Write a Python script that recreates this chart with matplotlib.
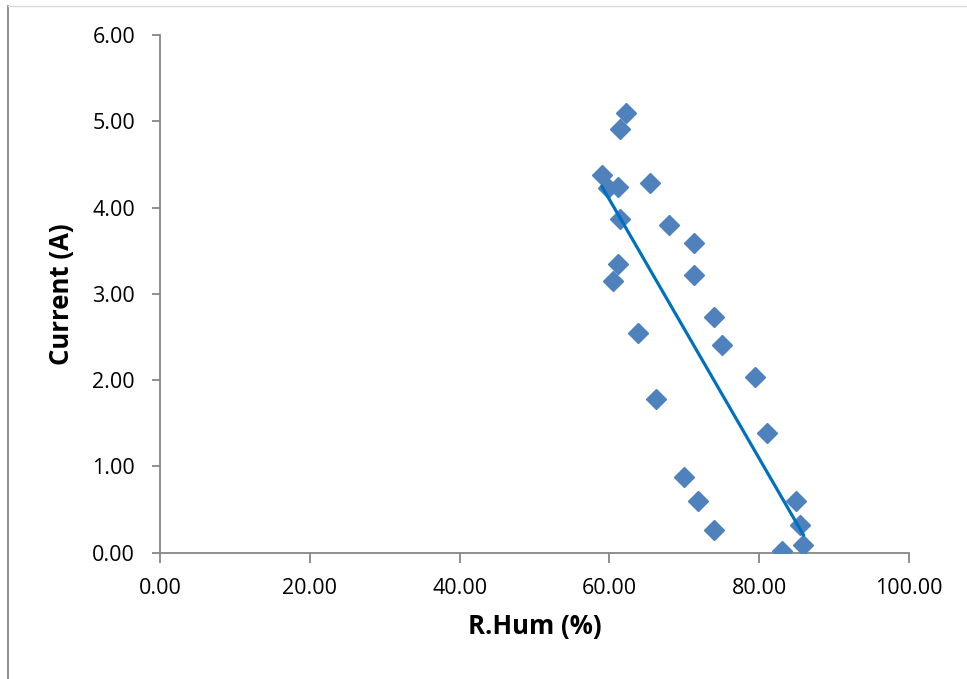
import matplotlib.pyplot as plt
import numpy as np
from matplotlib.lines import Line2D

# relative humidity (%) and current (A)
humidity = [62.2, 61.4, 59.0, 59.8, 61.2, 65.4, 61.4, 68.0, 71.3, 61.1,
            60.5, 71.3, 73.9, 63.8, 75.0, 79.5, 66.2, 81.1, 69.9, 71.8,
            84.9, 85.4, 73.9, 83.0, 85.9]
current = [5.10, 4.91, 4.38, 4.23, 4.24, 4.29, 3.87, 3.80, 3.59, 3.34,
           3.15, 3.22, 2.73, 2.55, 2.41, 2.04, 1.78, 1.39, 0.88, 0.60,
           0.60, 0.32, 0.26, 0.02, 0.09]

x_ticks = [0, 20, 40, 60, 80, 100]
y_ticks = [0, 1, 2, 3, 4, 5, 6]

plt.rcParams['font.family'] = ['Open Sans', 'DejaVu Sans']

fig = plt.figure(figsize=(9.67, 6.79), dpi=100)
ax = fig.add_axes([0.1655, 0.186, 0.7745, 0.7625])

ax.plot(humidity, current, linestyle='none', marker='D', ms=10.5,
        color='#4F81BD', markeredgecolor='#4F81BD', zorder=3)

# linear trendline
slope, intercept = np.polyfit(humidity, current, 1)
xs = np.array([min(humidity), max(humidity)])
ax.plot(xs, slope * xs + intercept, color='#0070C0', lw=2.3, zorder=4)

ax.set_xlim(0, 100)
ax.set_ylim(0, 6)
ax.set_xticks(x_ticks, ['%.2f' % v for v in x_ticks])
ax.set_yticks(y_ticks, ['%.2f' % v for v in y_ticks])

for side in ['top', 'right']:
    ax.spines[side].set_visible(False)
for side in ['left', 'bottom']:
    ax.spines[side].set_color('#868686')
    ax.spines[side].set_linewidth(1.3)
ax.tick_params(axis='both', colors='#868686', labelcolor='black',
               labelsize=15.5, width=1.3)
ax.tick_params(axis='x', length=7, pad=11)
ax.tick_params(axis='y', length=6, pad=12)

ax.set_xlabel('R.Hum (%)', fontsize=18.5, fontweight='bold', labelpad=10)
ax.set_ylabel('Current (A)', fontsize=18.5, fontweight='bold', labelpad=12)

# chart area border
fig.add_artist(Line2D([8 / 967, 8 / 967], [0, 1 - 6 / 679],
                      transform=fig.transFigure, color='#868686', lw=1.3))
fig.add_artist(Line2D([8 / 967, 1], [1 - 6 / 679, 1 - 6 / 679],
                      transform=fig.transFigure, color='#D9D9D9', lw=1))

fig.savefig('out.png', dpi=100)
